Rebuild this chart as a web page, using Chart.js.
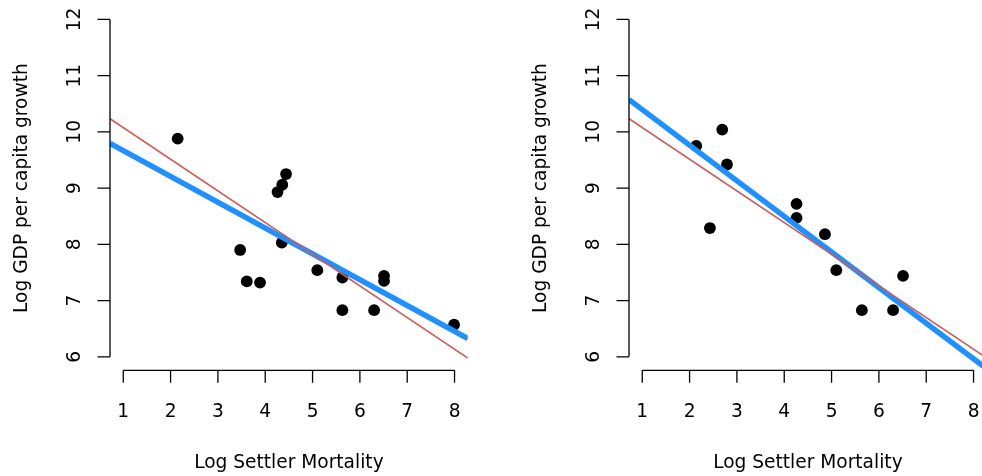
<!DOCTYPE html>
<html>
<head>
<meta charset="utf-8">
<script src="https://cdn.jsdelivr.net/npm/chart.js@4"></script>
<style>
  html, body { margin: 0; padding: 0; background: #fff; overflow: hidden; }
  #wrap { position: relative; width: 982px; height: 476px; overflow: hidden; }
  canvas { position: absolute; top: 0; }
</style>
</head>
<body>
<div id="wrap">
  <canvas id="leftChart" width="519" height="476" style="left:0"></canvas>
  <canvas id="rightChart" width="519" height="476" style="left:519px"></canvas>
</div>
<script>
const xTicks = [1, 2, 3, 4, 5, 6, 7, 8];
const yTicks = [6, 7, 8, 9, 10, 11, 12];
const xTitle = "Log Settler Mortality";
const yTitle = "Log GDP per capita growth";

// left panel sample
const leftMort = [2.15, 3.47, 3.61, 3.89, 4.26, 4.36, 4.44, 4.35, 5.10, 5.63, 5.63, 6.30, 6.51, 6.51, 7.99];
const leftGdp  = [9.88, 7.90, 7.34, 7.32, 8.93, 9.06, 9.25, 8.03, 7.54, 7.41, 6.83, 6.83, 7.44, 7.35, 6.57];

// right panel sample
const rightMort = [2.14, 2.43, 2.69, 2.79, 4.26, 4.26, 4.86, 5.10, 5.64, 6.30, 6.51];
const rightGdp  = [9.75, 8.29, 10.04, 9.42, 8.72, 8.47, 8.18, 7.54, 6.83, 6.83, 7.44];

// regression lines as [intercept, slope]
const fullFit  = [10.64, -0.563];
const leftFit  = [10.125, -0.459];
const rightFit = [11.03, -0.633];

const xRange = [0.72, 8.28];
const yRange = [5.76, 12.24];

Chart.defaults.font.family = "'DejaVu Sans'";

function fitLine(fit) {
  return xRange.map(x => ({ x: x, y: fit[0] + fit[1] * x }));
}

// R style axes: line only between first and last tick, labels outside
const rAxes = {
  id: "rAxes",
  afterDraw(chart) {
    const { ctx, chartArea: area } = chart;
    const xs = chart.scales.x, ys = chart.scales.y;
    ctx.save();
    ctx.strokeStyle = "#000";
    ctx.fillStyle = "#000";
    ctx.lineWidth = 1.3;
    ctx.font = "18.6px 'DejaVu Sans'";

    const yb = area.bottom;
    ctx.beginPath();
    ctx.moveTo(xs.getPixelForValue(xTicks[0]), yb);
    ctx.lineTo(xs.getPixelForValue(xTicks[xTicks.length - 1]), yb);
    xTicks.forEach(v => {
      const p = xs.getPixelForValue(v);
      ctx.moveTo(p, yb);
      ctx.lineTo(p, yb + 12.5);
    });
    const xl = area.left;
    ctx.moveTo(xl, ys.getPixelForValue(yTicks[0]));
    ctx.lineTo(xl, ys.getPixelForValue(yTicks[yTicks.length - 1]));
    yTicks.forEach(v => {
      const p = ys.getPixelForValue(v);
      ctx.moveTo(xl, p);
      ctx.lineTo(xl - 12.5, p);
    });
    ctx.stroke();

    ctx.textAlign = "center";
    ctx.textBaseline = "alphabetic";
    xTicks.forEach(v => ctx.fillText(String(v), xs.getPixelForValue(v), yb + 47));
    ctx.fillText(xTitle, (area.left + area.right) / 2, yb + 98);

    yTicks.forEach(v => {
      ctx.save();
      ctx.translate(xl - 30, ys.getPixelForValue(v));
      ctx.rotate(-Math.PI / 2);
      ctx.fillText(String(v), 0, 0);
      ctx.restore();
    });
    ctx.save();
    ctx.translate(xl - 83.3, (area.top + area.bottom) / 2);
    ctx.rotate(-Math.PI / 2);
    ctx.fillText(yTitle, 0, 0);
    ctx.restore();
    ctx.restore();
  }
};

function makePanel(id, mort, gdp, ownFit) {
  const pts = mort.map((m, i) => ({ x: m, y: gdp[i] }));
  return new Chart(document.getElementById(id), {
    type: "scatter",
    data: {
      datasets: [
        { data: fitLine(fullFit), showLine: true, borderColor: "#CD5C5C", borderWidth: 1.6,
          pointRadius: 0, order: 1, clip: 0 },
        { data: fitLine(ownFit), showLine: true, borderColor: "#1E90FF", borderWidth: 5.5,
          pointRadius: 0, order: 2, clip: 0 },
        { data: pts, pointRadius: 5.9, pointBackgroundColor: "#000", pointBorderWidth: 0,
          order: 3 }
      ]
    },
    options: {
      responsive: false,
      animation: false,
      layout: { padding: { left: 110, right: 51.2, top: 3.1, bottom: 105.7 } },
      plugins: { legend: { display: false }, tooltip: { enabled: false } },
      scales: {
        x: { type: "linear", min: xRange[0], max: xRange[1], display: false },
        y: { type: "linear", min: yRange[0], max: yRange[1], display: false }
      }
    },
    plugins: [rAxes]
  });
}

makePanel("leftChart", leftMort, leftGdp, leftFit);
makePanel("rightChart", rightMort, rightGdp, rightFit);
</script>
</body>
</html>
